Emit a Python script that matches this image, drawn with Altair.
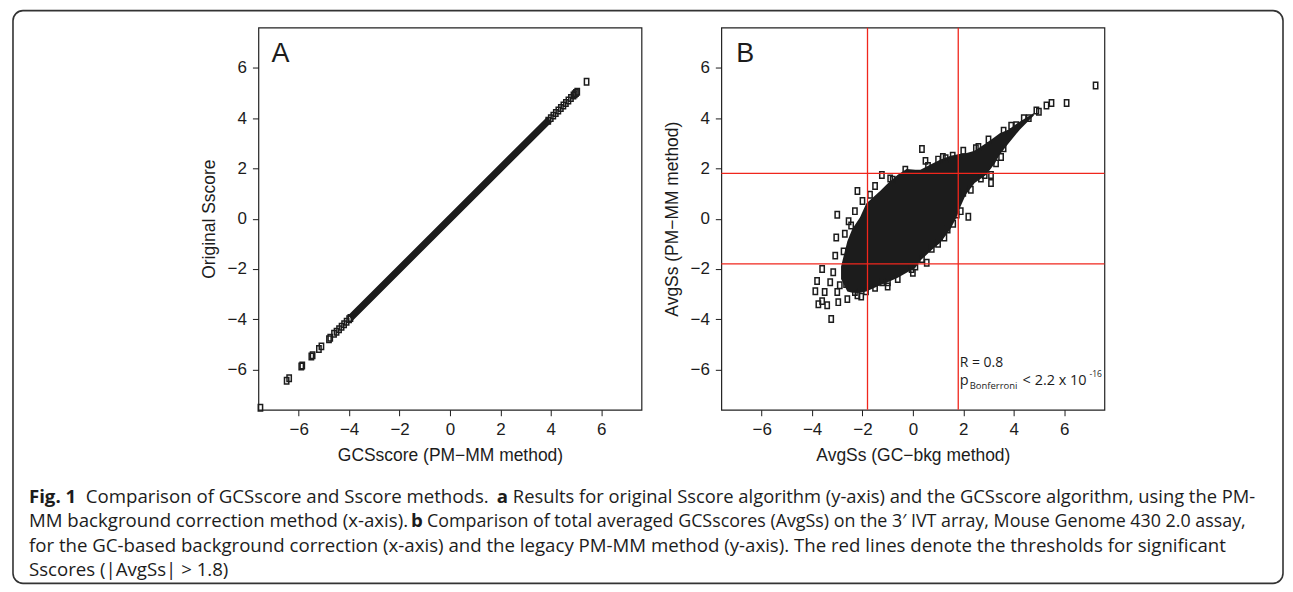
import altair as alt
import pandas as pd

# ---------------- data ----------------
axis_ticks = [-6, -4, -2, 0, 2, 4, 6]
axis_domain = [-7.6, 7.6]
thresholds = [-1.8, 1.8]

# Panel A: dense diagonal band (ends) + individually visible points
a_band_x = [-3.85, 3.85]
a_band_y = [-3.85, 3.85]
a_pts_x = [-7.52, -6.48, -6.38, -5.9, -5.86, -5.5, -5.45, -5.2, -5.1, -4.8, -4.75, -4.6, -4.5,
           -4.4, -4.3, -4.2, -4.1, -4.0, -3.95, 3.9, 4.0, 4.1, 4.2, 4.3, 4.4, 4.5, 4.6, 4.7,
           4.8, 4.9, 4.95, 5.0, 5.05, 5.42]
a_pts_y = [-7.52, -6.45, -6.35, -5.88, -5.84, -5.48, -5.43, -5.18, -5.08, -4.8, -4.74, -4.58, -4.5,
           -4.4, -4.3, -4.2, -4.1, -4.0, -3.95, 3.9, 4.0, 4.1, 4.2, 4.3, 4.4, 4.5, 4.6, 4.7,
           4.8, 4.9, 4.95, 5.0, 5.05, 5.45]

# Panel B: dense core of the cloud (upper / lower envelope) + visible outliers
b_core_x = [-2.85, -2.6, -2.4, -2.1, -1.85, -1.3, -1.0, -0.6, -0.25, 0.1, 0.3, 0.8, 1.1, 1.5,
            1.75, 1.9, 2.1, 2.45, 2.9, 3.25, 3.45, 3.8, 4.25, 4.8]
b_core_hi = [-1.9, -0.9, -0.4, 0.05, 0.6, 1.1, 1.4, 1.75, 1.98, 1.95, 1.95, 2.21, 2.35, 2.5,
             2.55, 2.58, 2.6, 2.7, 3.0, 3.25, 3.4, 3.55, 3.87, 4.2]
b_core_lo = [-2.4, -2.9, -2.95, -2.95, -2.9, -2.65, -2.53, -2.35, -2.15, -1.95, -1.66, -1.2,
             -0.95, -0.4, 0.1, 0.5, 0.95, 1.42, 1.74, 2.2, 2.55, 3.0, 3.55, 4.1]
b_pts_x = [-3.0, -2.45, -3.04, -3.08, -3.6, -3.16, -3.8, -3.87, -3.6, -3.75, -3.4, -3.24, -2.96,
           -2.6, -3.0, -3.5, -3.28, -2.9, -2.3, -1.86, -1.22, -0.99, -0.6, -0.05, 0.36, 0.75,
           1.0, 1.38, 1.74, 2.2, 2.85, 3.1, 3.1, 2.0, 0.36, -1.23, -2.2, 1.19, 1.58, 4.1,
           -1.5, -0.9, 0.5, 1.0, 2.0, 2.5, 3.0, 3.6, -2.65, -2.2, -1.5, 0.1, 1.6, 2.3, 3.3,
           3.6, 4.6, 5.0, 5.3, 5.5, 6.1, 7.25,
           -2.75, -2.7, -2.55, -2.3, -2.0, -1.7, -0.8, -0.3, 0.6, 1.3, 2.6, 3.9, 4.4, 4.9,
           -2.05, -1.0, 0.0, 0.55, 1.25, 1.9, 2.7, 3.5]
b_pts_y = [0.16, -0.27, -0.75, -1.47, -2.0, -2.13, -2.48, -2.89, -3.28, -3.4, -3.44, -3.99, -3.32,
           -3.2, -2.92, -2.92, -2.53, -2.65, -2.92, -2.89, -2.53, -2.53, -2.4, -2.0, -1.6, -1.2,
           -1.0, -0.43, 0.17, 0.08, 1.74, 1.74, 1.42, 1.03, 2.77, 1.74, 1.1, 2.45, 2.5, 3.72,
           1.3, 1.6, 2.3, 2.35, 2.7, 2.8, 3.15, 3.5, -2.6, -3.05, -2.75, -1.9, -0.2, 1.15, 2.2,
           2.8, 4.0, 4.25, 4.5, 4.6, 4.6, 5.3,
           -1.3, -0.6, -0.1, 0.3, 0.7, 0.95, 1.55, 1.95, 2.1, 2.4, 2.85, 3.7, 4.0, 4.3,
           -3.1, -2.7, -2.15, -1.75, -0.75, 0.3, 1.6, 2.45]

caption_line1 = ["Fig. 1", "Comparison of GCSscore and Sscore methods.", "a",
                 "Results for original Sscore algorithm (y-axis) and the GCSscore algorithm, using the PM-"]
caption_line2 = ["MM background correction method (x-axis).", "b",
                 "Comparison of total averaged GCSscores (AvgSs) on the 3\u2032 IVT array, Mouse Genome 430 2.0 assay,"]
caption_line3 = "for the GC-based background correction (x-axis) and the legacy PM-MM method (y-axis). The red lines denote the thresholds for significant"
caption_line4 = "Sscores (|AvgSs| > 1.8)"

# ---------------- styling helpers ----------------
INK = "#1c1c1c"
RED = "#f0261c"
BOX = "M-0.667,-1H0.667V1H-0.667Z"
AXFONT = "Liberation Sans"
CAPFONT = "Open Sans"

def ax(title):
    return alt.Axis(values=axis_ticks, grid=False, domain=False, tickSize=6, tickColor=INK,
                    tickWidth=1, labelFont=AXFONT, labelFontSize=17, labelColor=INK,
                    labelPadding=6, labelOverlap=False, labelFlush=False, titleFont=AXFONT,
                    titleFontSize=17.5, titleFontWeight="normal", titleColor=INK, titlePadding=9,
                    title=title)

def X(field, title):
    return alt.X(f"{field}:Q", scale=alt.Scale(domain=axis_domain, nice=False, zero=False), axis=ax(title))

def Y(field, title):
    return alt.Y(f"{field}:Q", scale=alt.Scale(domain=axis_domain, nice=False, zero=False), axis=ax(title))

one = pd.DataFrame({"k": [0]})

def txt(text, x, y, size, weight="normal", font=CAPFONT, color=INK):
    return alt.Chart(one).mark_text(text=text, align="left", baseline="alphabetic", font=font,
                                    fontSize=size, fontWeight=weight, color=color).encode(
        x=alt.value(x), y=alt.value(y))

def boxes(df, xt, yt):
    return alt.Chart(df).mark_point(shape=BOX, size=42, filled=False, stroke=INK,
                                    strokeWidth=1.5, opacity=1).encode(x=X("x", xt), y=Y("y", yt))

W, H = 384, 383

# ---------------- panel A ----------------
ax_t, ay_t = "GCSscore (PM\u2212MM method)", "Original Sscore"
band = alt.Chart(pd.DataFrame({"x": a_band_x, "y": a_band_y})).mark_line(
    color=INK, strokeWidth=7, strokeCap="square").encode(x=X("x", ax_t), y=Y("y", ay_t))
a_pts = boxes(pd.DataFrame({"x": a_pts_x, "y": a_pts_y}), ax_t, ay_t)

border = alt.Chart(one).mark_rect(cornerRadius=10, fill="transparent", stroke="#333",
                                  strokeWidth=1.6).encode(
    x=alt.value(-246), x2=alt.value(1027), y=alt.value(-17), y2=alt.value(557))

CS = 18.7
cap = [
    txt(caption_line1[0], -230, 476, CS, "bold"),
    txt(caption_line1[1], -173, 476, CS),
    txt(caption_line1[2], 239, 476, CS, "bold"),
    txt(caption_line1[3], 255, 476, 18.4),
    txt(caption_line2[0], -230, 501, CS),
    txt(caption_line2[1], 153, 501, CS, "bold"),
    txt(caption_line2[2], 169, 501, 17.9),
    txt(caption_line3, -230, 526, CS),
    txt(caption_line4, -230, 550, CS),
]

panel_a = alt.layer(
    band, a_pts,
    txt("A", 13, 34, 27, font=AXFONT),
    border, *cap,
).properties(width=W, height=H)

# ---------------- panel B ----------------
bx_t, by_t = "AvgSs (GC\u2212bkg method)", "AvgSs (PM\u2212MM method)"
core = alt.Chart(pd.DataFrame({"x": b_core_x, "y": b_core_hi, "y2": b_core_lo})).mark_area(
    color=INK, orient="vertical", opacity=1).encode(x=X("x", bx_t), y=Y("y", by_t), y2="y2:Q")
b_pts = boxes(pd.DataFrame({"x": b_pts_x, "y": b_pts_y}), bx_t, by_t)
vrules = alt.Chart(pd.DataFrame({"t": thresholds})).mark_rule(color=RED, strokeWidth=1.3).encode(
    x=X("t", bx_t))
hrules = alt.Chart(pd.DataFrame({"t": thresholds})).mark_rule(color=RED, strokeWidth=1.3).encode(
    y=Y("t", by_t))

panel_b = alt.layer(
    core, b_pts, vrules, hrules,
    txt("B", 15, 34, 27, font=AXFONT),
    txt("R = 0.8", 239, 340, 14),
    txt("p", 239, 358, 14.5),
    txt("Bonferroni", 249, 362, 9.5),
    txt("< 2.2 x 10", 302, 358, 14.5),
    txt("-16", 369, 350, 8.5),
).properties(width=W, height=H)

chart = alt.hconcat(panel_a, panel_b, spacing=80, bounds="flush").properties(
    padding={"left": 3, "top": 0, "right": 0, "bottom": 0}
).configure_view(stroke="#222", strokeWidth=1.2)

chart.save("out.html", embed_options={"renderer": "svg", "actions": False})
